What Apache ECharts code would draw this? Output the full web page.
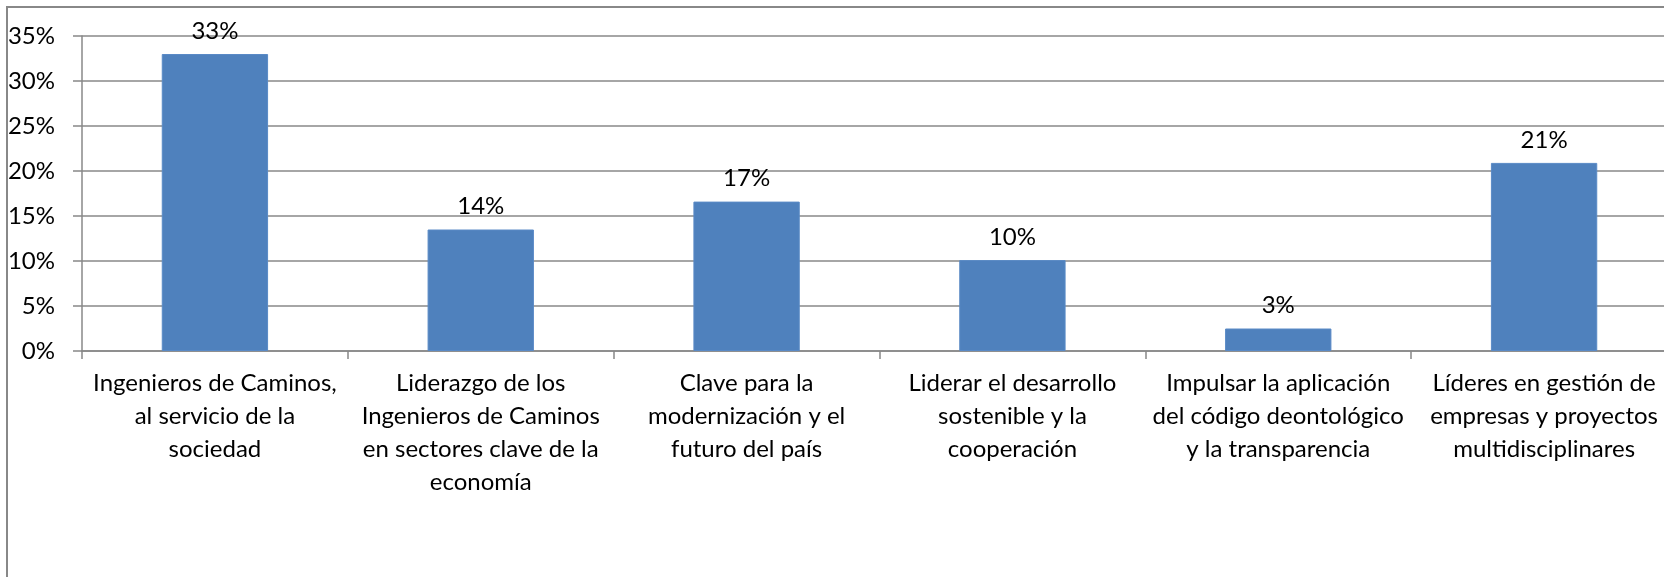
<!DOCTYPE html>
<html>
<head>
<meta charset="utf-8">
<script src="https://cdn.jsdelivr.net/npm/echarts@6/dist/echarts.min.js"></script>
<style>
  html, body { margin: 0; padding: 0; background: #fff; overflow: hidden; }
  #chart { width: 1664px; height: 577px; }
</style>
</head>
<body>
<div id="chart"></div>
<script>
// categorías (etiquetas con saltos de línea como en el original)
const categories = [
  'Ingenieros de Caminos,\nal servicio de la\nsociedad',
  'Liderazgo de los\nIngenieros de Caminos\nen sectores clave de la\neconomía',
  'Clave para la\nmodernización y el\nfuturo del país',
  'Liderar el desarrollo\nsostenible y la\ncooperación',
  'Impulsar la aplicación\ndel código deontológico\ny la transparencia',
  'Líderes en gestión de\nempresas y proyectos\nmultidisciplinares',
]
// porcentajes
const values = [33, 13.5, 16.6, 10.1, 2.5, 20.9]
const yTicks = { min: 0, max: 35, interval: 5 }

const FONT = 'Lato'
const FS = 24
const GRAY = '#888888'

const chart = echarts.init(document.getElementById('chart'))

chart.setOption({
  animation: false,
  textStyle: { fontFamily: FONT },
  graphic: [
    {
      type: 'rect',
      shape: { x: 7, y: 7, width: 1720, height: 620 },
      style: { fill: 'none', stroke: GRAY, lineWidth: 2 },
      silent: true,
    },
  ],
  // el área del gráfico se sale por la derecha, como en el original
  grid: { left: 82, top: 36, width: 1595, height: 315, outerBoundsMode: 'none' },
  xAxis: {
    type: 'category',
    data: categories,
    boundaryGap: true,
    axisLine: { show: true, lineStyle: { color: GRAY, width: 1.5 } },
    axisTick: { show: true, length: 8, lineStyle: { color: GRAY, width: 1.5 } },
    axisLabel: {
      interval: 0,
      margin: 16,
      color: '#000',
      fontFamily: FONT,
      fontSize: FS,
      lineHeight: 33,
      align: 'center',
    },
  },
  yAxis: {
    type: 'value',
    min: yTicks.min,
    max: yTicks.max,
    interval: yTicks.interval,
    axisLine: { show: true, lineStyle: { color: GRAY, width: 1.5 } },
    axisTick: { show: true, length: 9, lineStyle: { color: GRAY, width: 1.5 } },
    splitLine: { show: true, lineStyle: { color: GRAY, width: 1.5 } },
    axisLabel: {
      margin: 27,
      color: '#000',
      fontFamily: FONT,
      fontSize: FS,
      formatter: '{value}%',
    },
  },
  series: [
    {
      type: 'bar',
      data: values,
      barWidth: '40%',
      itemStyle: { color: '#4F81BD', borderColor: '#5A8AC6', borderWidth: 1 },
      label: {
        show: true,
        position: 'top',
        distance: 11,
        color: '#000',
        fontFamily: FONT,
        fontSize: FS,
        formatter: (p) => Math.round(p.value) + '%',
      },
    },
  ],
})
</script>
</body>
</html>
